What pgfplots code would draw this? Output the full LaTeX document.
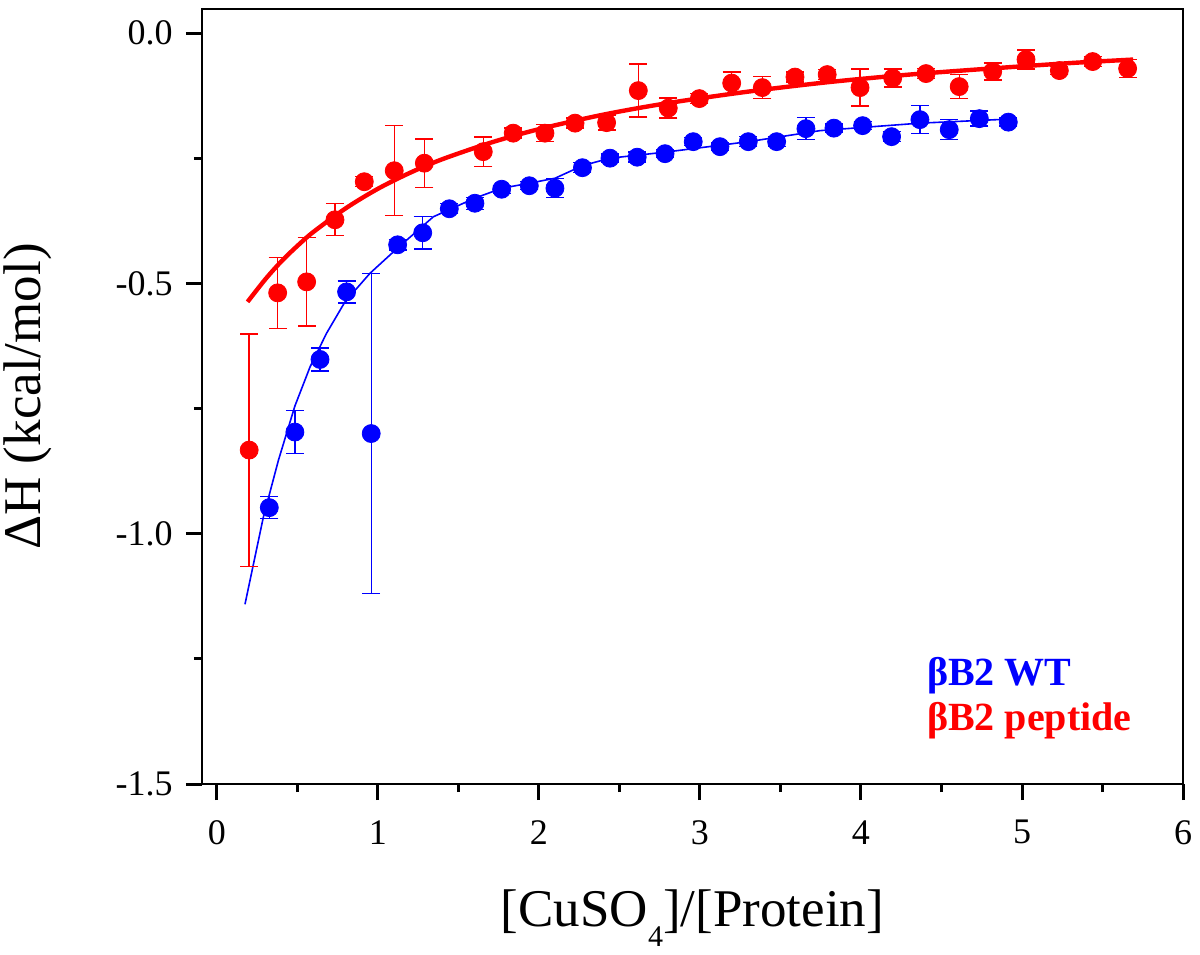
\documentclass[border=0pt]{standalone}
\usepackage{fontspec}
\setmainfont{Liberation Serif}
\usepackage{pgfplots}
\usepackage{pgfplotstable}
\pgfplotsset{compat=1.18}
\definecolor{pRed}{RGB}{255,0,0}
\definecolor{pBlue}{RGB}{0,0,255}

\pgfplotstableread{
x y e
0.200 -0.833 0.232
0.377 -0.519 0.071
0.557 -0.497 0.088
0.733 -0.373 0.032
0.915 -0.297 0.010
1.101 -0.275 0.090
1.288 -0.260 0.048
1.654 -0.237 0.029
1.840 -0.200 0.010
2.037 -0.200 0.017
2.224 -0.180 0.010
2.420 -0.179 0.015
2.617 -0.115 0.053
2.803 -0.150 0.020
2.996 -0.131 0.010
3.197 -0.100 0.022
3.387 -0.109 0.022
3.590 -0.088 0.010
3.790 -0.083 0.010
3.994 -0.109 0.037
4.197 -0.090 0.018
4.404 -0.081 0.010
4.610 -0.107 0.024
4.818 -0.077 0.017
5.025 -0.053 0.019
5.232 -0.075 0.008
5.439 -0.057 0.010
5.656 -0.071 0.018
}\peptide

\pgfplotstableread{
x y e
0.325 -0.948 0.022
0.484 -0.797 0.043
0.640 -0.652 0.023
0.805 -0.517 0.022
0.958 -0.800 0.320
1.122 -0.423 0.010
1.278 -0.399 0.032
1.443 -0.351 0.010
1.602 -0.340 0.012
1.768 -0.312 0.008
1.940 -0.305 0.008
2.099 -0.310 0.019
2.270 -0.269 0.010
2.441 -0.250 0.008
2.610 -0.248 0.010
2.783 -0.241 0.008
2.958 -0.217 0.008
3.124 -0.227 0.008
3.300 -0.217 0.010
3.476 -0.217 0.010
3.658 -0.191 0.022
3.832 -0.190 0.008
4.010 -0.185 0.008
4.190 -0.207 0.010
4.366 -0.173 0.028
4.548 -0.193 0.020
4.735 -0.171 0.015
4.915 -0.178 0.008
}\wt

\begin{document}
\begin{tikzpicture}
\useasboundingbox (-101pt,-85pt) rectangle (499pt,392pt);
\begin{axis}[
  at={(0pt,0pt)}, anchor=south west,
  scale only axis, width=490.5pt, height=387.5pt,
  xmin=-0.093, xmax=6, ymin=-1.5, ymax=0.048,
  xtick={0,1,2,3,4,5,6}, ytick={-1.5,-1,-0.5,0},
  minor x tick num=1, minor y tick num=1,
  tick align=outside, xtick pos=left, ytick pos=left,
  major tick length=8pt, minor tick length=4pt,
  every tick/.style={black, line width=1.5pt},
  axis line style={line width=1.3pt},
  /pgf/number format/assume math mode=true,
  ticklabel style={font=\fontsize{18}{20}\selectfont, inner sep=0pt},
  xticklabel shift=10pt, yticklabel shift=6.5pt,
  yticklabel style={/pgf/number format/fixed, /pgf/number format/fixed zerofill, /pgf/number format/precision=1},
  xticklabel style={/pgf/number format/fixed},
  xlabel={[CuSO\raisebox{-10pt}{\fontsize{15}{15}\selectfont 4}]/[Protein]},
  ylabel={ΔH (kcal/mol)},
  label style={font=\fontsize{26.5}{30}\selectfont},
  xlabel style={at={(axis description cs:0.5,-0.1845)}, anchor=base},
  ylabel style={at={(axis description cs:-0.1651,0.5)}, anchor=base},
]
% fit curves
\addplot[pBlue, line width=0.8pt, no markers] coordinates {
(0.174,-1.141) (0.288,-0.967) (0.382,-0.853) (0.484,-0.745) (0.578,-0.667)
(0.680,-0.600) (0.795,-0.537) (0.950,-0.480) (1.120,-0.430) (1.344,-0.367)
(1.600,-0.330) (1.770,-0.310) (1.940,-0.300) (2.100,-0.290) (2.270,-0.265)
(2.440,-0.250) (2.783,-0.238) (3.300,-0.217) (3.745,-0.195) (4.366,-0.180)
(4.915,-0.172)};
\addplot[pRed, line width=2.2pt, smooth, no markers] coordinates {
(0.19,-0.537) (0.30,-0.492) (0.40,-0.456) (0.50,-0.425) (0.60,-0.397)
(0.80,-0.350) (1.00,-0.311) (1.20,-0.279) (1.40,-0.252) (1.70,-0.219)
(2.00,-0.192) (2.40,-0.163) (2.80,-0.140) (3.30,-0.117) (3.80,-0.098)
(4.30,-0.083) (4.80,-0.071) (5.30,-0.060) (5.69,-0.053)};
% data
\addplot[only marks, mark=*, mark size=4.5pt, pBlue, mark options={fill=pBlue, draw=pBlue},
  error bars/.cd, y dir=both, y explicit,
  error bar style={line width=0.7pt, pBlue},
  error mark options={rotate=90, mark size=4.5pt, line width=0.7pt, pBlue}]
  table[x=x, y=y, y error=e] {\wt};
\addplot[only marks, mark=*, mark size=4.5pt, pRed, mark options={fill=pRed, draw=pRed},
  error bars/.cd, y dir=both, y explicit,
  error bar style={line width=0.7pt, pRed},
  error mark options={rotate=90, mark size=4.5pt, line width=0.7pt, pRed}]
  table[x=x, y=y, y error=e] {\peptide};
\node[anchor=base west, text=pBlue, font=\bfseries\fontsize{20}{24}\selectfont, inner sep=0pt] at (axis cs:4.408,-1.303) {βB2 WT};
\node[anchor=base west, text=pRed, font=\bfseries\fontsize{20}{24}\selectfont, inner sep=0pt] at (axis cs:4.408,-1.393) {βB2 peptide};
\end{axis}
\end{tikzpicture}
\end{document}
